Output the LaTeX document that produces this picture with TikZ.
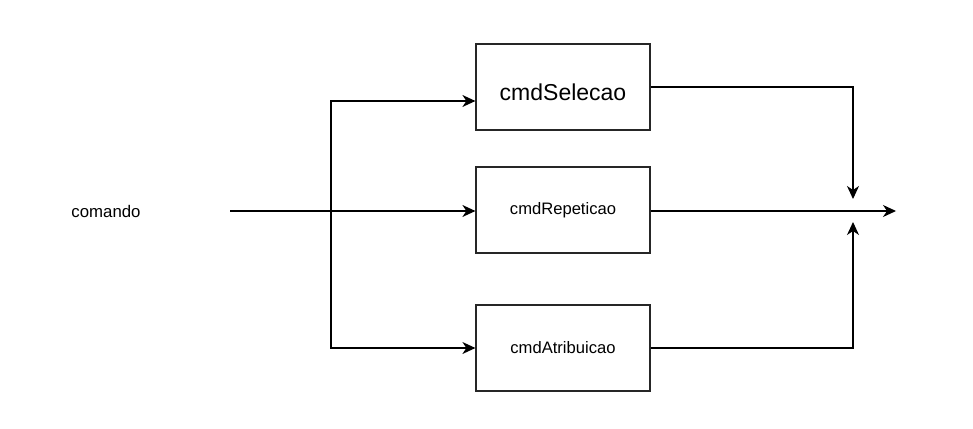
\documentclass[tikz,border=0pt]{standalone}
\usepackage{fontspec}
\setmainfont{Liberation Sans}
\usetikzlibrary{arrows.meta,positioning}

\begin{document}
\begin{tikzpicture}[x=1pt, y=-1pt,
    box/.style={rectangle, draw=black!85, line width=1.2pt, fill=white,
                minimum width=174pt, minimum height=86pt, align=center, font=\fontsize{16.6}{19}\selectfont},
    arr/.style={-{Stealth[length=13pt, width=12pt, inset=4pt]}, line width=1.2pt, black}
]
    \useasboundingbox (0,0) rectangle (973,428);

    \node[font=\fontsize{16.8}{19}\selectfont] (comando) at (106,211) {comando};
    \node[box, font=\fontsize{23}{26}\selectfont] (sel) at (563,87) {\raisebox{-5pt}[\height][\depth]{cmdSelecao}};
    \node[box] (rep) at (563,210) {cmdRepeticao};
    \node[box] (atr) at (563,348) {cmdAtribuicao};

    \coordinate (start) at (230,211);
    \coordinate (split) at (331,211);
    \coordinate (mergeTop) at (853,199);
    \coordinate (mergeBot) at (853,222);
    \coordinate (out) at (896,211);

    % entrada
    \draw[arr] (start) -- (split) -- (rep.west |- split);
    \draw[arr] (split) |- ([yshift=-14pt]sel.west);
    \draw[arr] (split) |- (atr.west);

    % saida
    \draw[arr] (sel.east) -| (mergeTop);
    \draw[arr] (rep.east |- out) -- (out);
    \draw[arr] (atr.east) -| (mergeBot);
\end{tikzpicture}
\end{document}
